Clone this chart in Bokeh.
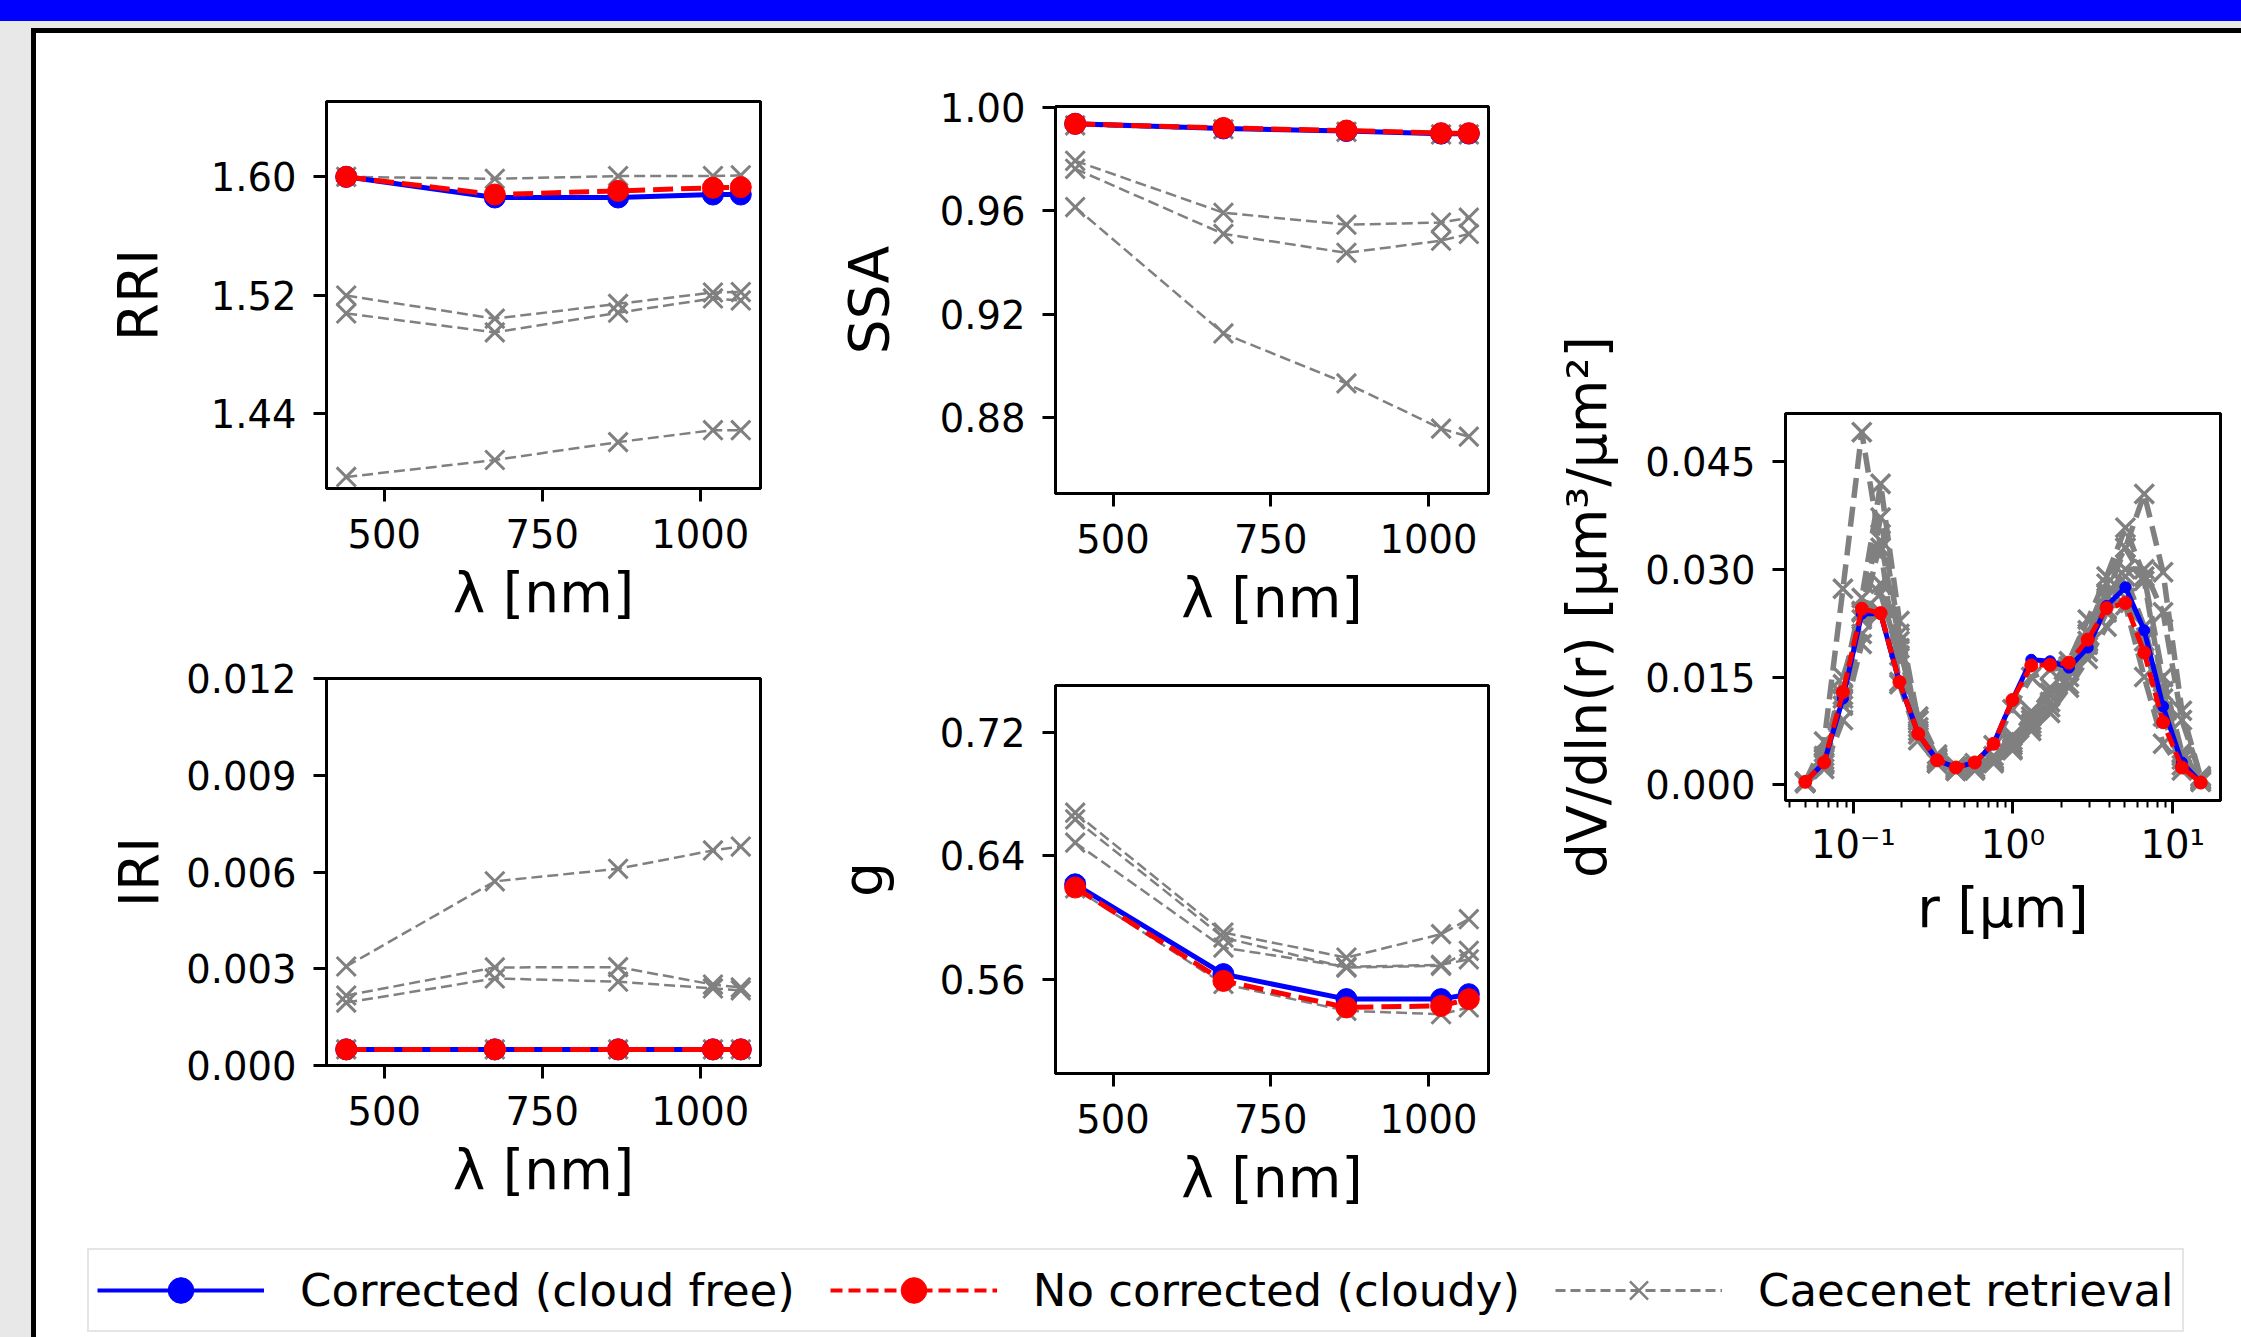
import math
from bokeh.plotting import figure
from bokeh.models import (ColumnDataSource, Range1d, FixedTicker, NumeralTickFormatter,
                          CustomJSTickFormatter, Div, Spacer, Legend, LegendItem)
from bokeh.layouts import column, row
from bokeh.embed import file_html
from bokeh.resources import INLINE

# ---------------- data ----------------
wavelength = [440, 675, 870, 1020, 1064]

rri_corrected = [1.600, 1.586, 1.586, 1.588, 1.588]
rri_cloudy = [1.600, 1.588, 1.5905, 1.5926, 1.593]
rri_caecenet = [
    [1.600, 1.5987, 1.6005, 1.6005, 1.601],
    [1.5196, 1.504, 1.514, 1.5217, 1.522],
    [1.5075, 1.4947, 1.508, 1.5177, 1.5163],
    [1.3968, 1.4083, 1.4204, 1.4285, 1.4285],
]

ssa_corrected = [0.9936, 0.9918, 0.9908, 0.9898, 0.9898]
ssa_cloudy = [0.9936, 0.9920, 0.9910, 0.9900, 0.9900]
ssa_caecenet = [
    [0.9930, 0.9915, 0.9905, 0.9895, 0.9895],
    [0.9793, 0.9592, 0.9546, 0.9554, 0.9573],
    [0.9762, 0.9510, 0.9437, 0.9484, 0.9510],
    [0.9614, 0.9125, 0.8932, 0.8757, 0.8726],
]

iri_corrected = [0.0005, 0.0005, 0.0005, 0.0005, 0.0005]
iri_cloudy = [0.0005, 0.0005, 0.0005, 0.0005, 0.0005]
iri_caecenet = [
    [0.0005, 0.0005, 0.0005, 0.0005, 0.0005],
    [0.00307, 0.00571, 0.0061, 0.00667, 0.00679],
    [0.00217, 0.00304, 0.00305, 0.00251, 0.00242],
    [0.00195, 0.0027, 0.0026, 0.00239, 0.00233],
]

g_corrected = [0.6216, 0.5634, 0.5472, 0.5472, 0.5504]
g_cloudy = [0.6195, 0.5590, 0.5418, 0.5428, 0.5472]
g_caecenet = [
    [0.6190, 0.5570, 0.5396, 0.5374, 0.5418],
    [0.6680, 0.5903, 0.5741, 0.5893, 0.5990],
    [0.6637, 0.5871, 0.5676, 0.5688, 0.5785],
    [0.6486, 0.5806, 0.5681, 0.5694, 0.5730],
]

radius = [0.05, 0.065604, 0.086077, 0.112939, 0.148184, 0.194429, 0.255105,
          0.334716, 0.439173, 0.576227, 0.756052, 0.991996, 1.301571, 1.707757,
          2.240702, 2.939966, 3.857452, 5.061260, 6.640745, 8.713145, 11.432287, 15.0]
sd_corrected = [0.0004, 0.0031, 0.0120, 0.0238, 0.0238, 0.0143, 0.0071, 0.0034, 0.0024,
                0.0031, 0.0057, 0.0118, 0.0174, 0.0172, 0.0163, 0.0191, 0.0249, 0.0275,
                0.0215, 0.0109, 0.0031, 0.0003]
sd_cloudy = [0.0004, 0.0031, 0.0129, 0.0245, 0.0239, 0.0143, 0.0071, 0.0034, 0.0024,
             0.0031, 0.0057, 0.0118, 0.0166, 0.0167, 0.0170, 0.0202, 0.0246, 0.0253,
             0.0184, 0.0087, 0.0024, 0.0003]
sd_caecenet = [
    [0.0004, 0.0060, 0.0273, 0.0491, 0.0330, 0.0140, 0.0062, 0.0030, 0.0020, 0.0022, 0.0035,
     0.0058, 0.0090, 0.0125, 0.0165, 0.0215, 0.0280, 0.0330, 0.0405, 0.0296, 0.0103, 0.0010],
    [0.0003, 0.0035, 0.0140, 0.0260, 0.0419, 0.0228, 0.0089, 0.0036, 0.0022, 0.0024, 0.0040,
     0.0068, 0.0102, 0.0135, 0.0172, 0.0230, 0.0290, 0.0358, 0.0290, 0.0150, 0.0045, 0.0008],
    [0.0003, 0.0030, 0.0120, 0.0240, 0.0372, 0.0210, 0.0080, 0.0032, 0.0020, 0.0021, 0.0036,
     0.0062, 0.0095, 0.0128, 0.0160, 0.0210, 0.0265, 0.0330, 0.0284, 0.0130, 0.0035, 0.0006],
    [0.0004, 0.0040, 0.0150, 0.0230, 0.0340, 0.0200, 0.0075, 0.0030, 0.0019, 0.0020, 0.0033,
     0.0055, 0.0085, 0.0115, 0.0150, 0.0200, 0.0260, 0.0300, 0.0300, 0.0240, 0.0090, 0.0012],
    [0.0003, 0.0028, 0.0110, 0.0210, 0.0280, 0.0190, 0.0090, 0.0038, 0.0023, 0.0022, 0.0030,
     0.0050, 0.0080, 0.0108, 0.0140, 0.0185, 0.0240, 0.0290, 0.0220, 0.0120, 0.0040, 0.0007],
    [0.0002, 0.0022, 0.0090, 0.0196, 0.0266, 0.0180, 0.0095, 0.0042, 0.0026, 0.0024, 0.0032,
     0.0048, 0.0075, 0.0100, 0.0135, 0.0175, 0.0220, 0.0250, 0.0150, 0.0057, 0.0020, 0.0004],
    [0.0004, 0.0031, 0.0125, 0.0242, 0.0240, 0.0143, 0.0070, 0.0035, 0.0024, 0.0030, 0.0055,
     0.0105, 0.0150, 0.0160, 0.0165, 0.0195, 0.0245, 0.0260, 0.0200, 0.0095, 0.0027, 0.0004],
]

wl_ticks = [500, 750, 1000]
rri_ticks = [1.44, 1.52, 1.60]
ssa_ticks = [0.88, 0.92, 0.96, 1.00]
iri_ticks = [0.0, 0.003, 0.006, 0.009, 0.012]
g_ticks = [0.56, 0.64, 0.72]
sd_ticks = [0.0, 0.015, 0.030, 0.045]
r_ticks = [0.1, 1.0, 10.0]
r_minor = [0.04, 0.05, 0.06, 0.07, 0.08, 0.09, 0.2, 0.3, 0.4, 0.5, 0.6, 0.7, 0.8, 0.9,
           2, 3, 4, 5, 6, 7, 8, 9]

rri_lim = (1.389, 1.651)
ssa_lim = (0.8506, 1.0003)
iri_lim = (0.0, 0.012)
g_lim = (0.499, 0.7504)
sd_lim = (-0.0022, 0.0517)

labels = ["Corrected (cloud free)", "No corrected (cloudy)", "Caecenet retrieval"]

# ---------------- styling ----------------
FONT = "DejaVu Sans"
TICK_FS = "38.5px"
LABEL_FS = "55px"
GRAY = "#808080"


def base_fig(width, height, left, right, top, bottom, xr, yr, x_log=False):
    kw = dict(width=width, height=height, min_border_left=left, min_border_right=right,
              min_border_top=top, min_border_bottom=bottom,
              x_range=Range1d(*xr), y_range=Range1d(*yr),
              output_backend="svg", toolbar_location=None)
    if x_log:
        kw["x_axis_type"] = "log"
    p = figure(**kw)
    p.xgrid.visible = False
    p.ygrid.visible = False
    p.outline_line_color = "black"
    p.outline_line_width = 3
    p.background_fill_color = "white"
    p.border_fill_color = "white"
    for ax in list(p.xaxis) + list(p.yaxis):
        ax.axis_line_color = "black"
        ax.axis_line_width = 3
        ax.major_tick_line_color = "black"
        ax.major_tick_line_width = 3
        ax.major_tick_out = 13
        ax.major_tick_in = 0
        ax.minor_tick_line_color = None
        ax.major_label_text_font = FONT
        ax.major_label_text_font_size = TICK_FS
        ax.major_label_text_color = "black"
        ax.axis_label_text_font = FONT
        ax.axis_label_text_font_size = LABEL_FS
        ax.axis_label_text_font_style = "normal"
        ax.axis_label_text_color = "black"
    p.xaxis.major_label_standoff = 17
    p.xaxis.axis_label_standoff = 10
    p.yaxis.major_label_standoff = 17
    return p


def wl_range():
    lo, hi = min(wavelength), max(wavelength)
    pad = 0.05 * (hi - lo)
    return (lo - pad, hi + pad)


def small_panel(width, height, left, right, top, bottom, ylim, yticks, yfmt, ylabel,
                ylab_standoff, corrected, cloudy, caecenet):
    p = base_fig(width, height, left, right, top, bottom, wl_range(), ylim)
    p.xaxis.ticker = FixedTicker(ticks=wl_ticks)
    p.yaxis.ticker = FixedTicker(ticks=yticks)
    p.yaxis.formatter = NumeralTickFormatter(format=yfmt)
    p.xaxis.axis_label = "λ [nm]"
    p.yaxis.axis_label = ylabel
    p.yaxis.axis_label_standoff = ylab_standoff
    for series in caecenet:
        src = ColumnDataSource(dict(x=wavelength, y=series))
        p.line("x", "y", source=src, line_color=GRAY, line_width=2.5, line_dash="11 5")
        p.scatter("x", "y", source=src, marker="x", size=27, line_color=GRAY, line_width=3)
    sb = ColumnDataSource(dict(x=wavelength, y=corrected))
    p.line("x", "y", source=sb, line_color="blue", line_width=5)
    p.scatter("x", "y", source=sb, marker="circle", size=21, fill_color="blue", line_color="blue")
    sr = ColumnDataSource(dict(x=wavelength, y=cloudy))
    p.line("x", "y", source=sr, line_color="red", line_width=5, line_dash="20 8")
    p.scatter("x", "y", source=sr, marker="circle", size=21, fill_color="red", line_color="red")
    return p


# column 1 (x 36..800)
rri_fig = small_panel(764, 610, 290, 40, 68, 155, rri_lim, rri_ticks, "0.00", "RRI", 38,
                      rri_corrected, rri_cloudy, rri_caecenet)
iri_fig = small_panel(764, 597, 290, 40, 35, 175, iri_lim, iri_ticks, "0.000", "IRI", 12,
                      iri_corrected, iri_cloudy, iri_caecenet)
# column 2 (x 800..1540)
ssa_fig = small_panel(740, 627, 255, 52, 73, 167, ssa_lim, ssa_ticks, "0.00", "SSA", 36,
                      ssa_corrected, ssa_cloudy, ssa_caecenet)
g_fig = small_panel(740, 580, 255, 52, 25, 167, g_lim, g_ticks, "0.00", "g", 42,
                    g_corrected, g_cloudy, g_caecenet)

# size distribution (x 1540..2241)
lr_lo, lr_hi = math.log10(min(radius)), math.log10(max(radius))
lpad = 0.05 * (lr_hi - lr_lo)
sd_fig = base_fig(701, 1207, 245, 21, 380, 440,
                  (10 ** (lr_lo - lpad), 10 ** (lr_hi + lpad)), sd_lim, x_log=True)
sd_fig.xaxis.ticker = FixedTicker(ticks=r_ticks, minor_ticks=r_minor)
sd_fig.xaxis.minor_tick_line_color = "black"
sd_fig.xaxis.minor_tick_line_width = 2
sd_fig.xaxis.minor_tick_out = 7
sd_fig.xaxis.minor_tick_in = 0
sd_fig.xaxis.major_label_standoff = 8
sd_fig.xaxis.axis_label_standoff = 6
sd_fig.xaxis.formatter = CustomJSTickFormatter(code="""
const e = Math.round(Math.log10(tick));
const sup = {'-1': '\u207b\u00b9', '0': '\u2070', '1': '\u00b9', '2': '\u00b2'};
return '10' + (sup[String(e)] || '');
""")
sd_fig.yaxis.ticker = FixedTicker(ticks=sd_ticks)
sd_fig.yaxis.formatter = NumeralTickFormatter(format="0.000")
sd_fig.xaxis.axis_label = "r [μm]"
sd_fig.yaxis.axis_label = "dV/dln(r) [μm³/μm²]"
sd_fig.yaxis.axis_label_standoff = 23
for series in sd_caecenet:
    src = ColumnDataSource(dict(x=radius, y=series))
    sd_fig.line("x", "y", source=src, line_color=GRAY, line_width=5.5, line_dash="20 9")
    sd_fig.scatter("x", "y", source=src, marker="x", size=27, line_color=GRAY, line_width=3.5)
sdb = ColumnDataSource(dict(x=radius, y=sd_corrected))
sd_fig.line("x", "y", source=sdb, line_color="blue", line_width=5)
sd_fig.scatter("x", "y", source=sdb, marker="circle", size=11, fill_color="blue", line_color="blue")
sdr = ColumnDataSource(dict(x=radius, y=sd_cloudy))
sd_fig.line("x", "y", source=sdr, line_color="red", line_width=5, line_dash="15 6")
sd_fig.scatter("x", "y", source=sdr, marker="circle", size=13, fill_color="red", line_color="red")

# legend strip (y 1240..1337); proxy renderers use series data lying outside this strip's ranges
leg_fig = figure(width=2205, height=97, min_border=0, x_range=Range1d(0, 1), y_range=Range1d(0, 1),
                 x_axis_location=None, y_axis_location=None, output_backend="svg",
                 toolbar_location=None)
leg_fig.xgrid.visible = False
leg_fig.ygrid.visible = False
leg_fig.outline_line_color = None
leg_fig.border_fill_color = "white"
leg_fig.background_fill_color = "white"
src_b = ColumnDataSource(dict(x=wavelength, y=rri_corrected))
src_r = ColumnDataSource(dict(x=wavelength, y=rri_cloudy))
src_g = ColumnDataSource(dict(x=wavelength, y=rri_caecenet[0]))
l1 = leg_fig.line("x", "y", source=src_b, line_color="blue", line_width=4)
m1 = leg_fig.scatter("x", "y", source=src_b, marker="circle", fill_color="blue", line_color="blue")
l2 = leg_fig.line("x", "y", source=src_r, line_color="red", line_width=4, line_dash="12 6")
m2 = leg_fig.scatter("x", "y", source=src_r, marker="circle", fill_color="red", line_color="red")
l3 = leg_fig.line("x", "y", source=src_g, line_color=GRAY, line_width=3, line_dash="10 5")
m3 = leg_fig.scatter("x", "y", source=src_g, marker="x", line_color=GRAY, line_width=2.5)
legend = Legend(items=[LegendItem(label=labels[0], renderers=[l1, m1]),
                       LegendItem(label=labels[1], renderers=[l2, m2]),
                       LegendItem(label=labels[2], renderers=[l3, m3])],
                location=(51, 5), orientation="horizontal",
                glyph_width=167, glyph_height=64, label_standoff=36, spacing=35,
                padding=8, margin=0,
                label_text_font=FONT, label_text_font_size="45px", label_text_color="black",
                border_line_color="#cccccc", border_line_width=2,
                background_fill_color="white", background_fill_alpha=1.0)
leg_fig.add_layout(legend, "center")

# ---------------- page layout / frame ----------------
WHITE = {"background-color": "white"}
col1 = column(rri_fig, iri_fig, spacing=0, styles=WHITE)
col2 = column(ssa_fig, g_fig, spacing=0, styles=WHITE)
top_row = row(col1, col2, sd_fig, spacing=0, styles=WHITE)
inner = column(top_row, leg_fig, spacing=0, styles=WHITE)

blue_bar = Div(text="", width=2241, height=21, margin=0, styles={"background-color": "#0000ff"})
black_top = Div(text="", width=2210, height=5, margin=0, styles={"background-color": "black"})
black_left = Div(text="", width=5, height=1304, margin=0, styles={"background-color": "black"})
panel = column(black_top, row(black_left, inner, spacing=0), spacing=0)
body = row(Spacer(width=31, height=1309, margin=0), panel, spacing=0)
root = column(blue_bar, Spacer(width=2241, height=7, margin=0), body, spacing=0,
              styles={"background-color": "#e8e8e8"})

open("out.html", "w").write(file_html(root, INLINE))
